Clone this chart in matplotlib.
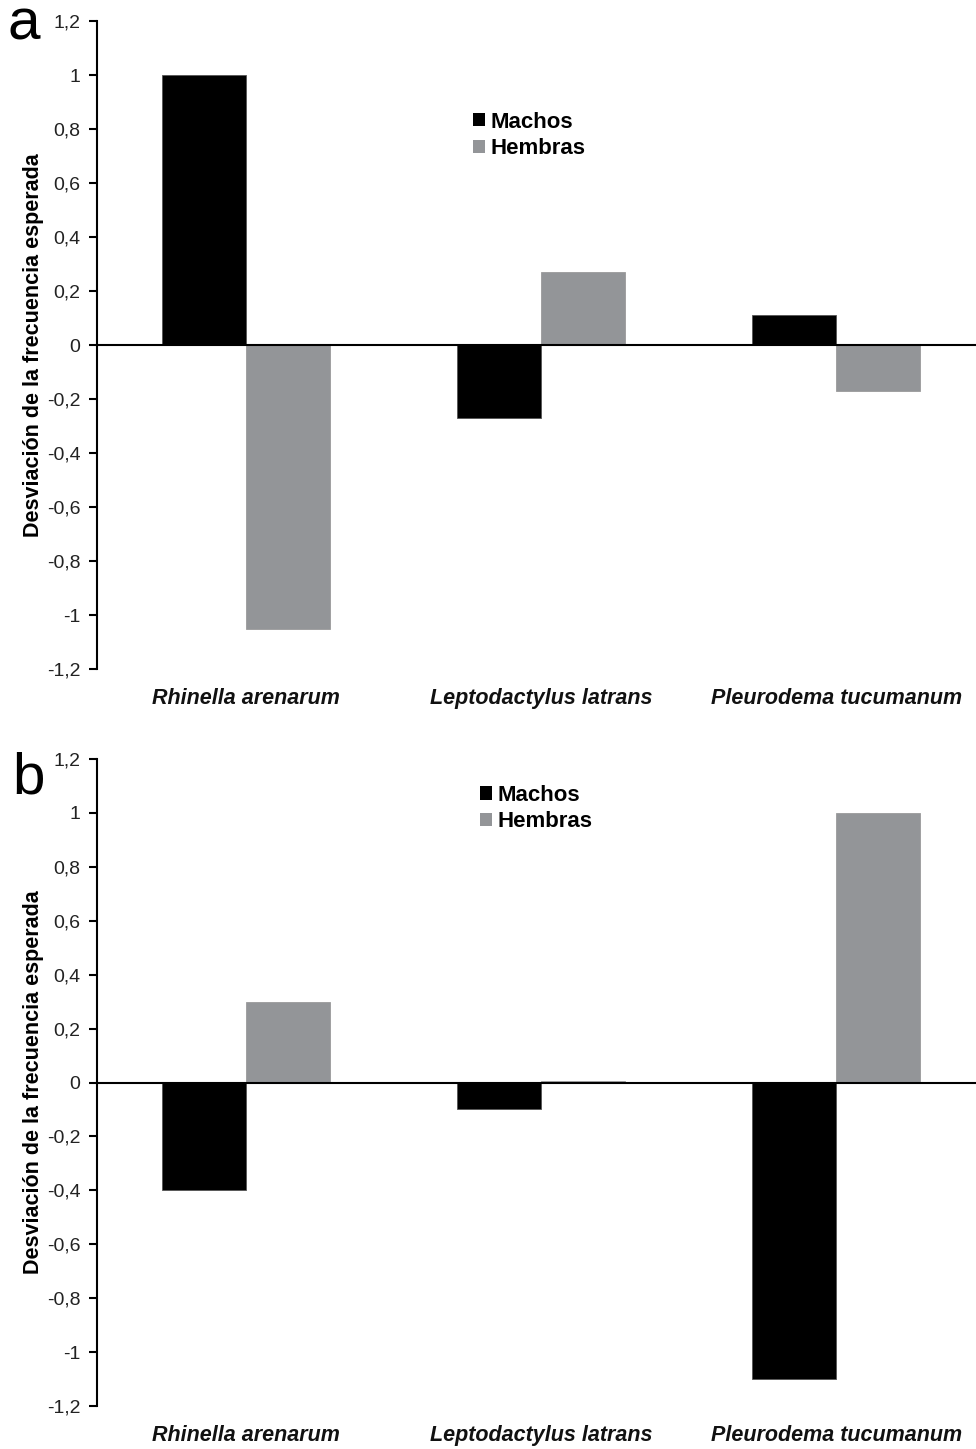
import matplotlib
matplotlib.use("Agg")
import matplotlib.pyplot as plt
import numpy as np
from matplotlib.patches import Patch

plt.rcParams['font.family'] = ['Liberation Sans', 'DejaVu Sans']

species = ["Rhinella arenarum", "Leptodactylus latrans", "Pleurodema tucumanum"]
machos_a = [1.0, -0.27, 0.11]
hembras_a = [-1.05, 0.27, -0.17]
machos_b = [-0.40, -0.10, -1.10]
hembras_b = [0.30, 0.005, 1.00]
yticks = [1.2, 1.0, 0.8, 0.6, 0.4, 0.2, 0.0, -0.2, -0.4, -0.6, -0.8, -1.0, -1.2]
ytick_labels = ["1,2", "1", "0,8", "0,6", "0,4", "0,2", "0", "-0,2", "-0,4", "-0,6", "-0,8", "-1", "-1,2"]
series_labels = ["Machos", "Hembras"]
panel_letters = ["a", "b"]

col_m = "#000000"
col_h = "#939598"

W, H = 976, 1449
fig = plt.figure(figsize=(W / 100, H / 100), dpi=100)

def frac_box(left, right, top, bottom):
    return [left / W, 1 - bottom / H, (right - left) / W, (bottom - top) / H]

axes_boxes = [frac_box(97, 975.5, 21, 669), frac_box(97, 975.5, 759, 1406)]
legend_anchor = [(0.405, 0.891), (0.413, 0.991)]
letter_pos = [(8, 40), (12, 793)]

data = [(machos_a, hembras_a), (machos_b, hembras_b)]
x = np.arange(len(species))
bw = 0.285

for i, (box, (m, h)) in enumerate(zip(axes_boxes, data)):
    ax = fig.add_axes(box)
    ax.bar(x - bw / 2, m, width=bw, color=col_m, edgecolor="#555555", linewidth=0.6, label=series_labels[0])
    ax.bar(x + bw / 2, h, width=bw, color=col_h, edgecolor="#9a9a9a", linewidth=0.6, label=series_labels[1])
    ax.set_xlim(-0.505, 2.472)
    ax.set_ylim(-1.2, 1.2)
    ax.spines['top'].set_visible(False)
    ax.spines['right'].set_visible(False)
    ax.spines['bottom'].set_position(('data', 0))
    ax.spines['bottom'].set_linewidth(1.5)
    ax.spines['left'].set_linewidth(1.5)
    ax.set_xticks([])
    ax.set_yticks(yticks)
    ax.set_yticklabels(ytick_labels, fontsize=14, color="#222222")
    ax.tick_params(axis='y', direction='out', length=6, width=1.5, pad=6)
    ax.set_ylabel("Desviación de la frecuencia esperada", fontsize=15.5, fontweight='bold', labelpad=2)
    for xi, s in zip(x, species):
        ax.text(xi, -0.045, s, transform=ax.get_xaxis_transform(), ha='center', va='center',
                fontsize=15.5, fontweight='bold', fontstyle='italic', color="#111111")
    handles = [Patch(facecolor=col_m, edgecolor='none'), Patch(facecolor=col_h, edgecolor='none')]
    leg = ax.legend(handles, series_labels, loc='upper left', bbox_to_anchor=legend_anchor[i],
                    frameon=False, handlelength=0.55, handleheight=0.55, handletextpad=0.25,
                    labelspacing=0.25, prop={'size': 16, 'weight': 'bold'})
    lx, ly = letter_pos[i]
    fig.text(lx / W, 1 - ly / H, panel_letters[i], fontsize=42, ha='left', va='baseline')

fig.savefig("out.png", dpi=100)
